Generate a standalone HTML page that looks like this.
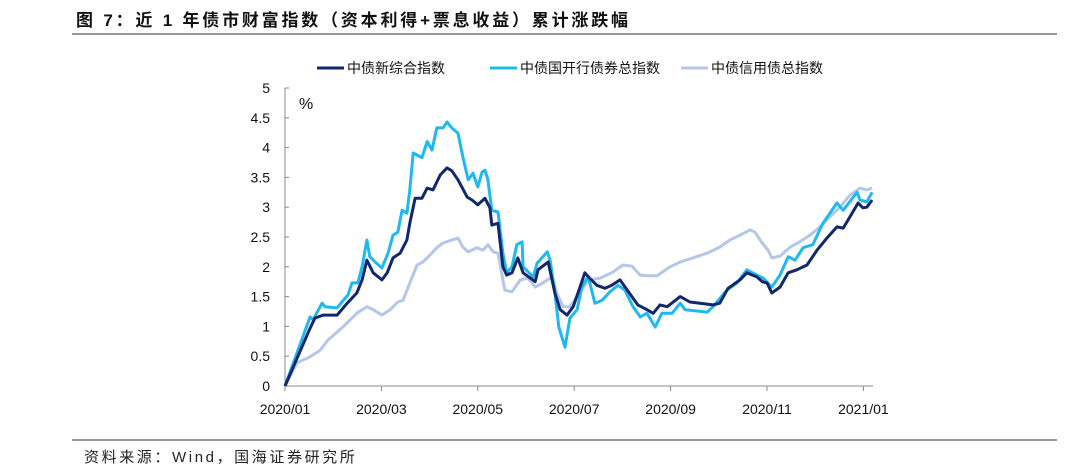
<!DOCTYPE html>
<html><head><meta charset="utf-8"><style>
body{margin:0;background:#fff;width:1080px;height:468px;overflow:hidden;font-family:"Liberation Sans","Noto Sans CJK SC",sans-serif}
</style></head><body>
<svg width="1080" height="468" style="display:block">
<text x="76" y="26" font-size="17" font-weight="bold" fill="#111" letter-spacing="2.8" font-family="Liberation Sans,Noto Sans CJK SC,sans-serif">图 7：近 1 年债市财富指数（资本利得+票息收益）累计涨跌幅</text>
<line x1="72" y1="34" x2="1057" y2="34" stroke="#333" stroke-width="1"/>
<line x1="72" y1="440" x2="1057" y2="440" stroke="#333" stroke-width="1"/>
<text x="84" y="462" font-size="15" fill="#222" letter-spacing="2.6" font-family="Liberation Sans,Noto Sans CJK SC,sans-serif">资料来源：Wind，国海证券研究所</text>
<g id="legend" font-size="14" fill="#111" font-family="Liberation Sans,Noto Sans CJK SC,sans-serif"></g>
<g id="axes"></g>
<g id="plot"></g>
</svg>
<script>
const yTicks=[0,0.5,1,1.5,2,2.5,3,3.5,4,4.5,5];
const yTickLabels=["0","0.5","1","1.5","2","2.5","3","3.5","4","4.5","5"];
const xTickMonths=[0,2,4,6,8,10,12];
const xTickLabels=["2020/01","2020/03","2020/05","2020/07","2020/09","2020/11","2021/01"];
const seriesNames=["中债新综合指数","中债国开行债券总指数","中债信用债总指数"];
const navyM=[0,0.52,0.62,0.79,1.08,1.29,1.49,1.6,1.7,1.83,2.01,2.12,2.24,2.39,2.53,2.59,2.7,2.84,2.95,3.07,3.22,3.36,3.46,3.59,3.78,3.88,4,4.15,4.25,4.29,4.42,4.52,4.6,4.71,4.83,4.94,5.19,5.25,5.46,5.6,5.71,5.85,5.98,6.12,6.22,6.33,6.47,6.64,6.78,6.95,7.1,7.32,7.51,7.64,7.78,7.93,8.2,8.4,8.88,9.02,9.19,9.44,9.58,9.79,9.9,10,10.1,10.27,10.44,10.62,10.83,11.04,11.24,11.45,11.58,11.78,11.89,11.99,12.07,12.18];
const navyV=[0,0.97,1.14,1.19,1.19,1.39,1.56,1.78,2.11,1.9,1.78,1.9,2.15,2.23,2.45,2.73,3.15,3.15,3.32,3.29,3.54,3.66,3.61,3.46,3.17,3.12,3.04,3.15,2.99,2.7,2.73,2,1.86,1.9,2.15,1.9,1.75,1.95,2.08,1.56,1.28,1.19,1.33,1.66,1.9,1.8,1.69,1.64,1.69,1.78,1.61,1.36,1.28,1.22,1.36,1.33,1.5,1.41,1.36,1.39,1.64,1.78,1.9,1.83,1.75,1.73,1.56,1.66,1.9,1.95,2.03,2.28,2.48,2.67,2.65,2.92,3.07,2.99,3,3.12];
const cyanM=[0,0.52,0.58,0.77,0.83,1.08,1.18,1.31,1.39,1.51,1.6,1.7,1.76,1.87,2.01,2.14,2.24,2.34,2.43,2.53,2.59,2.66,2.84,2.95,3.05,3.15,3.28,3.36,3.46,3.59,3.69,3.8,3.9,4,4.09,4.15,4.21,4.29,4.42,4.52,4.6,4.71,4.81,4.92,4.94,5.15,5.23,5.44,5.5,5.6,5.68,5.81,5.91,6.06,6.16,6.29,6.43,6.58,6.74,6.91,7.05,7.22,7.37,7.51,7.68,7.82,8.03,8.2,8.3,8.76,8.88,9.17,9.38,9.58,9.79,9.92,10.1,10.27,10.44,10.58,10.75,10.95,11.16,11.45,11.58,11.87,11.93,12.07,12.18];
const cyanV=[0,1.16,1.11,1.39,1.33,1.31,1.41,1.53,1.73,1.73,2,2.45,2.17,2.08,1.98,2.23,2.53,2.58,2.95,2.9,3.29,3.91,3.83,4.1,3.96,4.33,4.33,4.43,4.33,4.24,3.84,3.46,3.57,3.34,3.59,3.62,3.46,2.95,2.92,2.23,1.9,2,2.37,2.42,2,1.83,2.06,2.25,2.11,1.56,0.99,0.65,1.14,1.28,1.66,1.84,1.39,1.44,1.58,1.69,1.61,1.33,1.16,1.22,0.99,1.22,1.22,1.39,1.28,1.24,1.33,1.61,1.73,1.95,1.86,1.81,1.66,1.86,2.17,2.11,2.32,2.37,2.73,3.07,2.95,3.25,3.12,3.09,3.25];
const lightM=[0,0.25,0.52,0.73,0.89,1.2,1.49,1.7,1.83,2.01,2.18,2.34,2.45,2.59,2.74,2.86,3.01,3.15,3.28,3.46,3.59,3.69,3.8,3.98,4.11,4.21,4.32,4.42,4.52,4.56,4.71,4.88,5.04,5.19,5.35,5.54,5.64,5.77,5.91,6.06,6.22,6.33,6.54,6.8,7.01,7.2,7.37,7.53,7.72,7.99,8.2,8.46,8.76,9.02,9.23,9.44,9.65,9.75,9.9,10.02,10.1,10.27,10.48,10.68,10.89,11.1,11.31,11.51,11.72,11.93,12.07,12.18];
const lightV=[0,0.39,0.49,0.6,0.77,0.99,1.22,1.33,1.28,1.19,1.28,1.41,1.44,1.73,2.03,2.08,2.2,2.32,2.4,2.45,2.48,2.33,2.25,2.32,2.28,2.37,2.25,2.23,1.78,1.61,1.58,1.78,1.81,1.66,1.73,1.83,1.56,1.33,1.33,1.5,1.69,1.78,1.81,1.91,2.03,2.01,1.86,1.85,1.85,2,2.08,2.15,2.23,2.33,2.45,2.53,2.62,2.58,2.4,2.28,2.15,2.18,2.33,2.42,2.53,2.67,2.84,3,3.2,3.32,3.29,3.32];

const NS="http://www.w3.org/2000/svg";
const X0=285,MW=48.2,Y0=386,UH=59.6;
const xs=m=>X0+m*MW, ys=v=>Y0-v*UH;
function mk(tag,attrs,parent){const e=document.createElementNS(NS,tag);for(const k in attrs)e.setAttribute(k,attrs[k]);parent.appendChild(e);return e;}
const axes=document.getElementById('axes'),plot=document.getElementById('plot'),leg=document.getElementById('legend');
let a=mk('line',{x1:X0,y1:ys(5),x2:X0,y2:Y0,stroke:'#888','stroke-width':1},axes);


a=mk('line',{x1:X0,y1:Y0,x2:xs(12.2),y2:Y0,stroke:'#888','stroke-width':1},axes);


yTicks.forEach((v,i)=>{
 const t=mk('line',{x1:X0,y1:ys(v),x2:X0+4,y2:ys(v),stroke:'#888'},axes);
 
 
 const l=mk('text',{x:270,y:ys(v)+5,'text-anchor':'end','font-size':14,fill:'#111'},axes);
 l.textContent=yTickLabels[i];
 
 
});
xTickMonths.forEach((m,i)=>{
 const t=mk('line',{x1:xs(m),y1:Y0,x2:xs(m),y2:Y0+5,stroke:'#888'},axes);
 
 
 const l=mk('text',{x:xs(m),y:414,'text-anchor':'middle','font-size':14,fill:'#111'},axes);
 l.textContent=xTickLabels[i];
 
 
});
const u=mk('text',{x:299,y:109,'font-size':16,fill:'#111'},axes);
u.textContent='%';


const series=[[lightM,lightV,'#b4c7e7','series-credit-bond'],[cyanM,cyanV,'#1fb8ef','series-cdb-bond'],[navyM,navyV,'#12286b','series-composite']];
series.forEach(s=>{
 const d=s[0].map((m,i)=>(i?'L':'M')+xs(m).toFixed(1)+' '+ys(s[1][i]).toFixed(1)).join('');
 const p=mk('path',{d:d,fill:'none',stroke:s[2],'stroke-width':3,'stroke-linejoin':'round'},plot);
 
 
});
const legX=[317,490,681],legC=['#12286b','#1fb8ef','#b4c7e7'];
seriesNames.forEach((n,i)=>{
 const g=mk('g',{},leg);
 
 
 mk('line',{x1:legX[i],y1:68,x2:legX[i]+27,y2:68,stroke:legC[i],'stroke-width':3},g);
 const t=mk('text',{x:legX[i]+30,y:73},g);
 t.textContent=n;
});
</script>
</body></html>
